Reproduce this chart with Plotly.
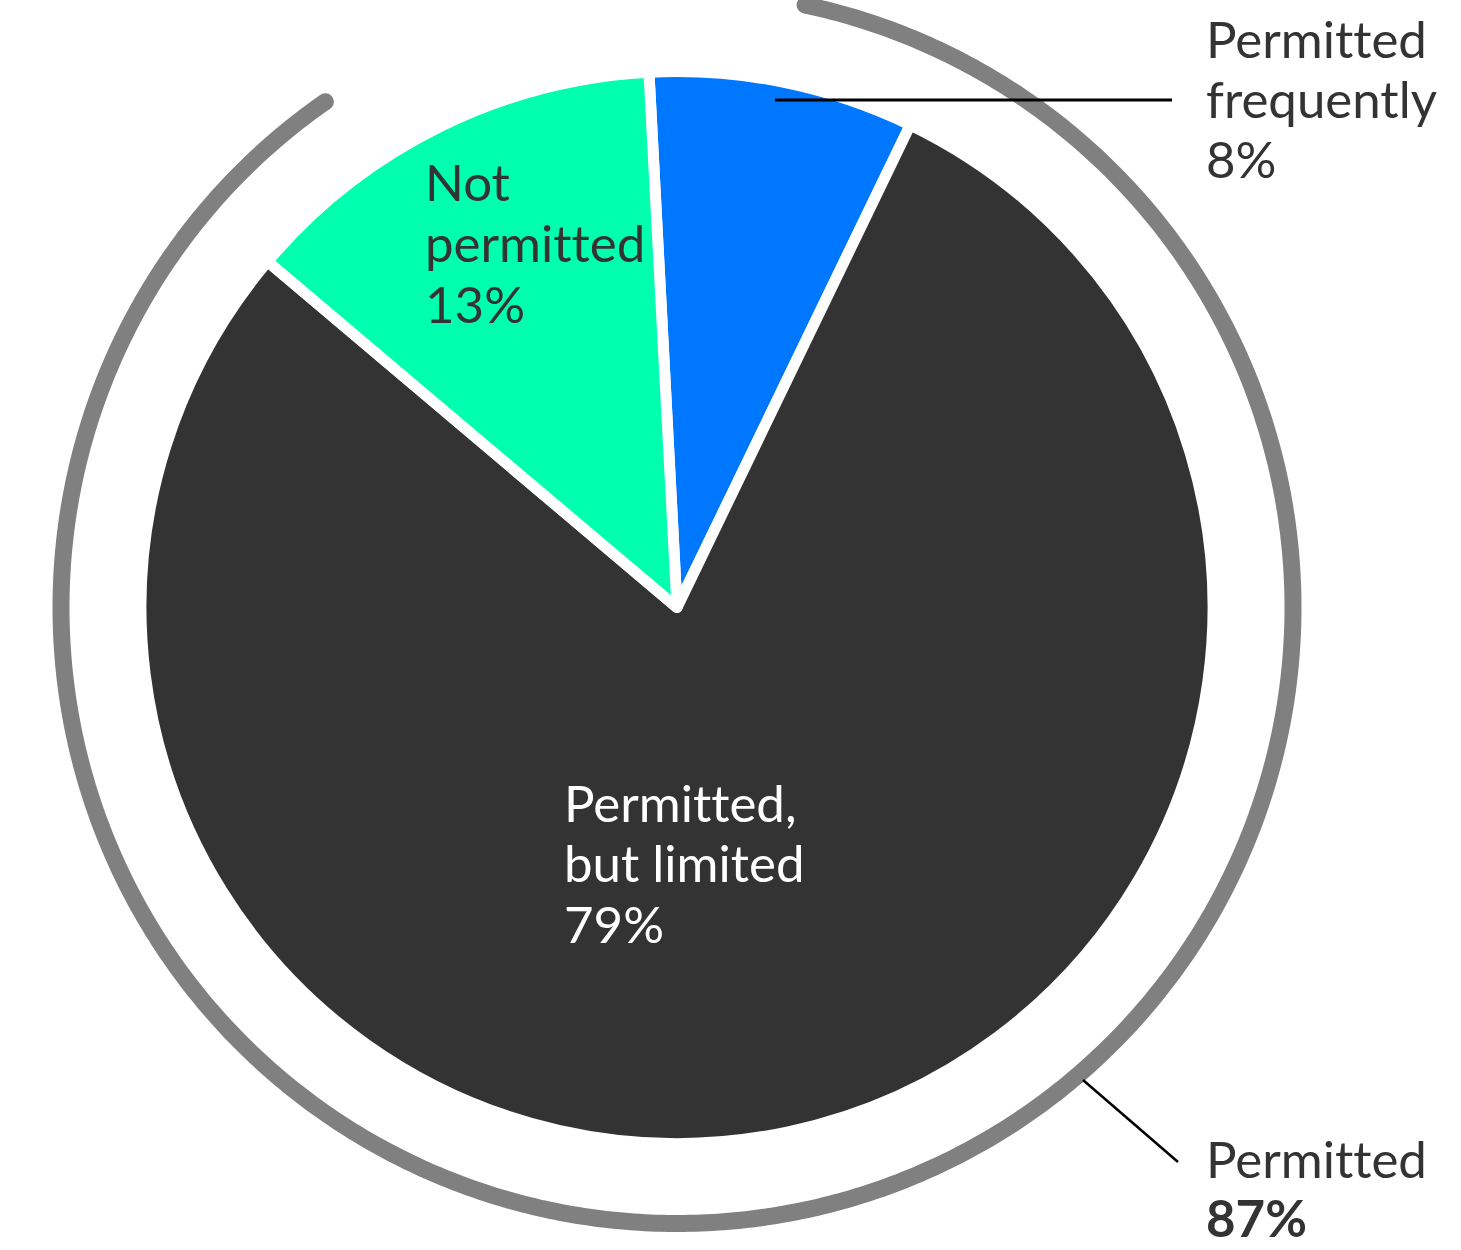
import numpy as np
import plotly.graph_objects as go

# Share of respondents by answer
categories = ["Permitted frequently", "Permitted, but limited", "Not permitted"]
shares = [8, 79, 13]
slice_colors = ["#0077FF", "#333333", "#00FFAE"]

# Combined "permitted" share shown by the outer arc
permitted_total = shares[0] + shares[1]

W, H = 1461, 1250
CX, CY = 677, 607.5      # pie centre in pixels
PIE_R = 536              # pie radius in pixels
ARC_R = 616              # outer arc radius in pixels
ARC_W = 17               # arc stroke width
ARC_START = 12           # degrees clockwise from 12 o'clock

fig = go.Figure()

# Outer arc sized by the permitted share
sweep = 360 * permitted_total / 100
theta = np.radians(np.linspace(ARC_START, ARC_START + sweep, 600))
ax = CX + ARC_R * np.sin(theta)
ay = CY - ARC_R * np.cos(theta)
fig.add_trace(go.Scatter(x=ax, y=ay, mode="lines",
                         line=dict(color="#808080", width=ARC_W, simplify=False),
                         hoverinfo="skip", showlegend=False))
# rounded ends of the arc
fig.add_trace(go.Scatter(x=[ax[0], ax[-1]], y=[ay[0], ay[-1]], mode="markers",
                         marker=dict(color="#808080", size=ARC_W, line=dict(width=0)),
                         hoverinfo="skip", showlegend=False))

# Pie
fig.add_trace(go.Pie(
    labels=categories, values=shares, sort=False, direction="clockwise",
    rotation=-3, textinfo="none", hoverinfo="label+percent",
    marker=dict(colors=slice_colors, line=dict(color="white", width=11)),
    domain=dict(x=[(CX - PIE_R) / W, (CX + PIE_R) / W],
                y=[1 - (CY + PIE_R) / H, 1 - (CY - PIE_R) / H]),
    showlegend=False,
))

FONT = "Lato, 'Open Sans', sans-serif"
FS = 51
ZWNJ = "\u200c"  # keeps "tt" from forming a ligature


def nolig(s):
    return s.replace("tt", "t" + ZWNJ + "t")


def label(x, baselines, lines, color):
    """One annotation per line so the line pitch can be set freely."""
    for base, txt in zip(baselines, lines):
        fig.add_annotation(x=x, y=base - 1.02 * FS, xref="x", yref="y",
                           text=nolig(txt),
                           showarrow=False, xanchor="left", yanchor="top",
                           align="left",
                           font=dict(family=FONT, size=FS, color=color))


label(1204, [58, 118, 178], ["Permitted", "frequently", f"{shares[0]}%"], "#333333")
label(423, [201, 262, 323], ["Not", "permitted", f"{shares[2]}%"], "#333333")
label(562, [822, 882, 943], ["Permitted,", "but limited", f"{shares[1]}%"], "#FFFFFF")
label(1204, [1178, 1237], ["Permitted", f"<b>{permitted_total}%</b>"], "#333333")

# Leader lines
fig.add_shape(type="line", x0=775, y0=100, x1=1172, y1=100, xref="x", yref="y",
              line=dict(color="#000000", width=3))
fig.add_shape(type="line", x0=1083, y0=1080, x1=1178, y1=1162, xref="x", yref="y",
              line=dict(color="#000000", width=2.5))

fig.update_xaxes(range=[0, W], visible=False, fixedrange=True)
fig.update_yaxes(range=[H, 0], visible=False, fixedrange=True)
fig.update_layout(width=W, height=H, margin=dict(l=0, r=0, t=0, b=0),
                  paper_bgcolor="white", plot_bgcolor="white")

fig.write_html("out.html")
